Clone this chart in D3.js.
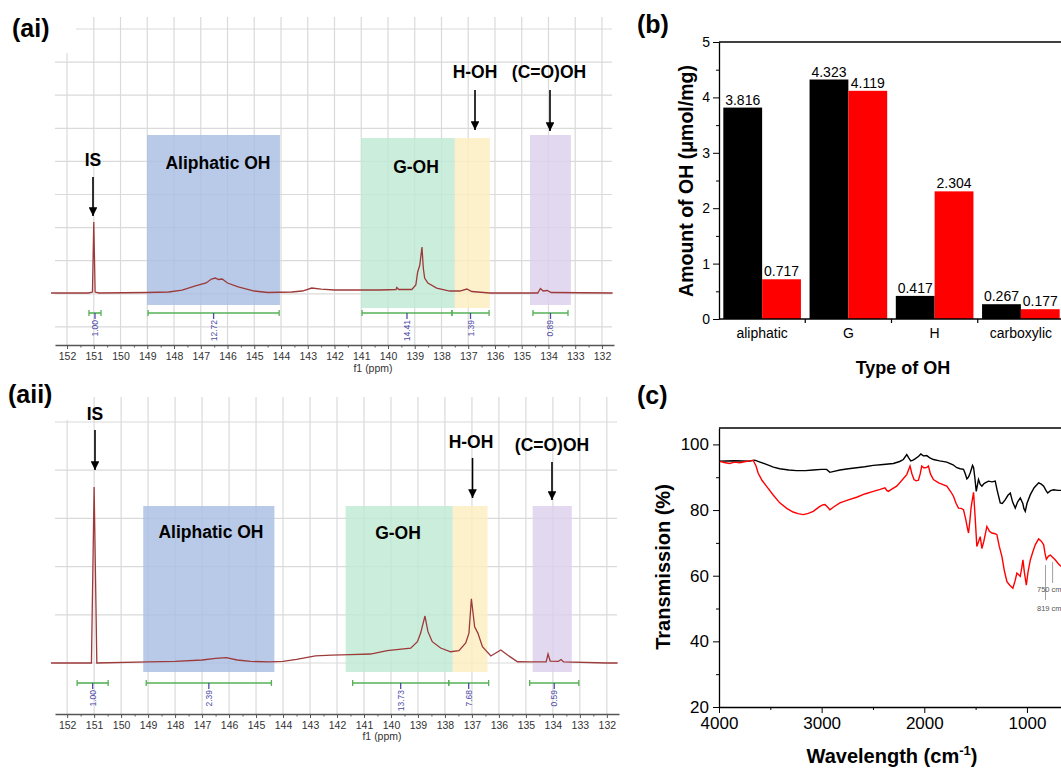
<!DOCTYPE html>
<html>
<head>
<meta charset="utf-8">
<script src="https://cdn.jsdelivr.net/npm/d3@7"></script>
<style>
  body { margin: 0; background: #fff; }
</style>
</head>
<body>
<div class="chart"></div>
<script>
// ---------- (ai) / (aii) 31P NMR ----------
var ppmTicks = d3.range(152, 131, -1);
// [ppm, relative intensity], IS peak = 100
var nmrAi = [
  [152.6,0],[151.2,0],[151.05,1.4],[151.0,100],[150.95,1.4],[150.8,0],[149,0.7],[148.2,1.4],
  [147.7,4.2],[147.2,9.9],[146.8,14.1],[146.6,19.7],[146.45,21.1],[146.35,19],[146.2,19.7],
  [146.0,14.1],[145.6,8.5],[145.0,2.8],[144.5,0.7],[143.6,1.4],[143.2,2.8],[142.85,7.0],
  [142.5,5.6],[142.0,4.2],[141.0,4.2],[140.3,4.2],[139.7,4.9],[139.67,7.7],[139.6,4.9],
  [139.11,4.9],[138.96,11.3],[138.89,29.6],[138.81,39.4],[138.73,64.8],[138.68,35.2],
  [138.63,21.1],[138.51,14.1],[138.18,7.0],[137.69,2.8],[137.31,2.8],[137.05,5.6],
  [136.87,2.1],[136.2,0],[134.4,0],[134.3,6.3],[134.2,2.8],[134.05,3.5],[133.9,0.7],[131.6,0]
];
var nmrAii = [
  [152.6,0],[151.1,0],[151.0,100],[150.9,0],[149,0.6],[148,0.9],[147,1.7],[146.5,2.6],
  [146.1,3.1],[145.7,1.7],[145.2,0.9],[144.5,0.6],[144,0.9],[143.5,2.0],[142.8,4.0],
  [142.2,4.5],[141.5,4.8],[140.76,5.1],[140.14,7.0],[139.27,8.4],[139.02,12.1],[138.9,17.0],
  [138.74,26.7],[138.63,17.8],[138.47,12.1],[138.16,8.5],[137.79,6.4],[137.48,7.0],
  [137.23,11.4],[137.11,17.0],[137.02,36.5],[136.9,20.6],[136.78,17.0],[136.61,9.3],
  [136.3,4.0],[135.93,7.4],[135.68,4.5],[135.31,0.7],[134.82,0.6],[134.25,0.6],[134.18,5.1],
  [134.1,1.1],[133.8,0.9],[133.7,2.0],[133.6,0.6],[132,0],[131.6,0]
];
var regionNames = ["Aliphatic OH", "G-OH", "H-OH", "(C=O)OH"];
var regionColors = ["#a8bee3", "#bfe9d3", "#fdeebf", "#dccfeb"];
var regionsAi = [[149.01,144.04],[141.01,137.5],[137.5,136.19],[134.69,133.16]];
var regionsAii = [[149.18,144.32],[141.68,137.71],[137.71,136.42],[134.75,133.3]];
var integralsAi = [[151.18,150.73],[148.97,144.07],[140.97,137.61],[137.61,136.22],[134.58,133.27]];
var integralValuesAi = ["1.00","12.72","14.41","1.39","0.89"];
var integralsAii = [[151.63,150.48],[149.07,144.43],[141.42,137.86],[137.86,136.38],[134.86,133.04]];
var integralValuesAii = ["1.00","2.39","13.73","7.68","0.59"];

// ---------- (b) bar chart ----------
var ohTypes = ["aliphatic", "G", "H", "carboxylic"];
var seriesBlack = [3.816, 4.323, 0.417, 0.267];
var seriesRed = [0.717, 4.119, 2.304, 0.177];
var barTicks = [0, 1, 2, 3, 4, 5];

// ---------- (c) FTIR ----------
var ftirBlack = [
  [4000,94.9],[3850,95.0],[3700,94.9],[3652,95.2],[3600,94.6],[3538,93.9],[3470,93.1],[3408,92.6],
  [3320,92.2],[3245,92.0],[3160,92.0],[3082,92.2],[3000,92.4],[2952,92.4],[2920,91.5],[2880,91.8],
  [2822,92.2],[2740,92.6],[2659,92.9],[2580,93.2],[2497,93.6],[2400,93.9],[2301,94.2],[2240,94.8],
  [2204,95.4],[2171,96.9],[2150,95.8],[2132,95.0],[2110,95.2],[2090,95.6],[2055,96.4],[2034,97.1],
  [2010,96.5],[1976,96.6],[1950,96.0],[1911,95.4],[1850,95.0],[1781,94.6],[1720,93.8],[1683,92.9],
  [1650,92.6],[1618,92.4],[1600,91.0],[1585,89.5],[1570,90.0],[1553,91.3],[1530,93.6],[1520,93.0],
  [1508,90.0],[1494,85.7],[1480,88.0],[1472,89.3],[1455,87.8],[1439,87.3],[1420,88.0],[1407,88.3],
  [1374,88.8],[1340,88.6],[1309,88.8],[1290,86.0],[1260,82.2],[1240,82.0],[1211,83.2],[1185,84.5],
  [1162,85.2],[1140,82.5],[1114,80.6],[1090,82.5],[1065,83.7],[1040,82.0],[1030,80.5],[1016,79.6],
  [1000,82.0],[967,84.7],[930,86.8],[886,88.3],[860,87.9],[837,87.3],[815,86.0],[798,85.2],
  [770,85.9],[739,86.2],[700,86.0],[665,86.0]
];
var ftirRed = [
  [4000,94.9],[3950,94.5],[3896,94.2],[3850,94.6],[3798,94.4],[3740,94.8],[3700,95.0],[3668,95.2],
  [3640,93.5],[3619,91.3],[3580,89.0],[3538,87.3],[3470,84.5],[3408,82.2],[3340,80.5],[3278,79.4],
  [3230,78.9],[3180,78.6],[3130,79.0],[3082,79.6],[3040,80.6],[3017,81.1],[2990,81.6],[2968,81.7],
  [2945,81.0],[2920,80.1],[2880,81.0],[2822,82.2],[2740,83.1],[2659,83.9],[2580,84.9],[2497,85.7],
  [2430,86.3],[2383,86.8],[2365,86.0],[2350,85.7],[2320,86.3],[2269,87.3],[2220,89.0],[2171,90.8],
  [2150,92.5],[2139,93.4],[2120,91.0],[2100,89.3],[2080,88.9],[2057,89.1],[2040,91.0],[2025,93.4],
  [2005,92.9],[1992,92.9],[1975,93.0],[1960,93.4],[1940,91.0],[1911,89.3],[1860,88.3],[1781,87.3],
  [1740,85.5],[1716,84.2],[1690,82.0],[1667,80.6],[1640,80.5],[1618,80.1],[1595,77.0],[1580,74.5],
  [1569,73.0],[1555,77.0],[1545,80.5],[1537,82.2],[1520,85.4],[1505,78.0],[1488,68.9],[1470,70.5],
  [1455,71.9],[1439,68.3],[1420,70.5],[1390,75.0],[1365,73.5],[1342,73.0],[1310,72.8],[1293,72.5],
  [1270,69.0],[1244,65.9],[1220,61.5],[1195,58.2],[1165,57.0],[1137,56.2],[1115,58.5],[1098,60.8],
  [1080,60.3],[1065,59.8],[1050,62.5],[1039,64.8],[1025,61.0],[1006,57.1],[990,61.0],[967,64.8],
  [940,67.5],[919,69.4],[886,71.2],[860,70.5],[837,69.4],[825,67.0],[811,65.0],[790,66.0],
  [772,66.3],[745,65.5],[723,64.8],[690,63.5],[665,62.8]
];
var ftirMarks = [819, 750];
var ftirYTicks = [20, 40, 60, 80, 100];
var ftirXTicks = [4000, 3000, 2000, 1000];

var FONT = '"Liberation Sans", Arial, sans-serif';

var svg = d3.select(".chart").append("svg")
  .attr("width", 1061)
  .attr("height", 770)
  .style("font-family", FONT);

//arrow head
svg.append("defs").append("marker")
  .attr("id", "arrow")
  .attr("viewBox", "0 0 10 10")
  .attr("refX", 10).attr("refY", 5)
  .attr("markerWidth", 5.5).attr("markerHeight", 5.5)
  .attr("orient", "auto")
  .append("path").attr("d", "M0,0 L10,5 L0,10 z").attr("fill", "#000");

// ---------- NMR panel ----------
function drawNmr(o) {
  var g = svg.append("g");
  var x = d3.scaleLinear().domain([152.45, 131.55]).range([55, o.right]);
  var y = d3.scaleLinear().domain([0, 100]).range([o.base, o.isTop]);

  //grid
  g.selectAll("line.vgrid").data(ppmTicks).join("line").attr("class", "vgrid")
    .attr("x1", d => x(d)).attr("x2", d => x(d))
    .attr("y1", o.gridTop).attr("y2", o.axisY)
    .attr("stroke", "#dadada").attr("stroke-width", 1.2);
  g.selectAll("line.hgrid").data(o.hLines).join("line").attr("class", "hgrid")
    .attr("x1", 55).attr("x2", o.right - 2)
    .attr("y1", d => d).attr("y2", d => d)
    .attr("stroke", "#dadada").attr("stroke-width", 1.2);
  g.append("rect").attr("x", 0).attr("y", o.patch[0])
    .attr("width", 76).attr("height", o.patch[1]).attr("fill", "#fff");

  //shaded regions
  g.selectAll("rect.region").data(o.regions).join("rect").attr("class", "region")
    .attr("x", d => x(d[0])).attr("width", d => x(d[1]) - x(d[0]))
    .attr("y", (d, i) => o.regTop[i])
    .attr("height", (d, i) => o.regBottom[i] - o.regTop[i])
    .attr("fill", (d, i) => regionColors[i])
    .attr("fill-opacity", 0.82);

  //spectrum
  g.append("path").datum(o.data)
    .attr("d", d3.line().x(d => x(d[0])).y(d => y(d[1])))
    .attr("fill", "none").attr("stroke", "#9c3a3a").attr("stroke-width", 1.3);

  //integrals
  var ig = g.selectAll("g.integ").data(o.integrals).join("g").attr("class", "integ");
  ig.append("line")
    .attr("x1", d => x(d[0])).attr("x2", d => x(d[1]))
    .attr("y1", o.integY).attr("y2", o.integY)
    .attr("stroke", "#55b055").attr("stroke-width", 1.6);
  [0, 1].forEach(function(k) {
    ig.append("line")
      .attr("x1", d => x(d[k])).attr("x2", d => x(d[k]))
      .attr("y1", o.integY - 3).attr("y2", o.integY + 3)
      .attr("stroke", "#55b055").attr("stroke-width", 1.3);
  });
  ig.append("line")
    .attr("x1", d => x((d[0] + d[1]) / 2)).attr("x2", d => x((d[0] + d[1]) / 2))
    .attr("y1", o.integY).attr("y2", o.integY + 6)
    .attr("stroke", "#4b4ba8").attr("stroke-width", 1.3);
  ig.append("text")
    .attr("transform", d => `translate(${x((d[0] + d[1]) / 2) + 3},${o.integY + 7}) rotate(-90)`)
    .attr("text-anchor", "end")
    .attr("font-size", 8.5)
    .attr("fill", "#4b4ba8")
    .text((d, i) => o.values[i]);

  //axis
  var ax = g.append("g").attr("transform", `translate(0,${o.axisY})`)
    .call(d3.axisBottom(x).tickValues(ppmTicks).tickSize(4).tickPadding(4)
      .tickSizeOuter(0).tickFormat(d3.format("d")));
  ax.attr("font-family", FONT).attr("font-size", 10.5);
  ax.select(".domain").attr("stroke", "#555").attr("stroke-width", 1.6);
  ax.selectAll(".tick line").attr("stroke", "#555");
  ax.selectAll(".tick text").attr("fill", "#333");
  var mx = g.append("g").attr("transform", `translate(0,${o.axisY})`)
    .call(d3.axisBottom(x).tickValues(d3.range(151.5, 131.5, -1)).tickSize(2.5).tickFormat(""));
  mx.select(".domain").remove();
  mx.selectAll(".tick line").attr("stroke", "#555");

  g.append("text").attr("x", o.f1[0]).attr("y", o.f1[1])
    .attr("text-anchor", "middle").attr("font-size", 10.5).attr("fill", "#333")
    .text("f1 (ppm)");

  //labels and arrows
  g.selectAll("text.lab").data(o.labels).join("text").attr("class", "lab")
    .attr("x", d => d.x).attr("y", d => d.y)
    .attr("text-anchor", "middle")
    .attr("font-size", 17.5).attr("font-weight", "bold")
    .text(d => d.t);
  g.selectAll("line.arr").data(o.arrows).join("line").attr("class", "arr")
    .attr("x1", d => d[0]).attr("x2", d => d[0])
    .attr("y1", d => d[1]).attr("y2", d => d[2])
    .attr("stroke", "#000").attr("stroke-width", 1.6)
    .attr("marker-end", "url(#arrow)");

  g.append("text").attr("x", o.tag[0]).attr("y", o.tag[1])
    .attr("font-size", 25).attr("font-weight", "bold").text(o.tagText);
}

drawNmr({
  right: 614, isTop: 222, base: 293, axisY: 345, gridTop: 17,
  hLines: d3.range(29, 330, 33.1), patch: [0, 53],
  data: nmrAi, regions: regionsAi,
  regTop: [135, 138, 138, 135], regBottom: [305, 308, 308, 305],
  integrals: integralsAi, values: integralValuesAi, integY: 313,
  f1: [373, 372],
  labels: [
    {t: "IS", x: 93, y: 166}, {t: "Aliphatic OH", x: 218, y: 169},
    {t: "G-OH", x: 416, y: 173}, {t: "H-OH", x: 475, y: 78}, {t: "(C=O)OH", x: 549, y: 78}
  ],
  arrows: [[93, 177, 216], [475, 90, 130], [550, 90, 131]],
  tag: [12, 37], tagText: "(ai)"
});

drawNmr({
  right: 619, isTop: 487, base: 663, axisY: 714, gridTop: 397,
  hLines: d3.range(422, 665, 48.2), patch: [380, 40],
  data: nmrAii, regions: regionsAii,
  regTop: [506, 506, 506, 506], regBottom: [672, 672, 672, 672],
  integrals: integralsAii, values: integralValuesAii, integY: 683,
  f1: [382, 740],
  labels: [
    {t: "IS", x: 95, y: 420}, {t: "Aliphatic OH", x: 211, y: 538},
    {t: "G-OH", x: 398, y: 539}, {t: "H-OH", x: 471, y: 448}, {t: "(C=O)OH", x: 552, y: 451}
  ],
  arrows: [[95, 430, 470], [472.5, 458, 498], [552, 462, 500]],
  tag: [8, 403], tagText: "(aii)"
});

// ---------- (b) ----------
var gb = svg.append("g");
var xb = d3.scaleBand().domain(ohTypes).range([719, 1064]).paddingInner(0.1).paddingOuter(0.05);
var xs = d3.scaleBand().domain([0, 1]).range([0, xb.bandwidth()]);
var yb = d3.scaleLinear().domain([0, 5]).range([319, 42]);
var barColors = ["#000000", "#ff0000"];

var barData = [];
ohTypes.forEach(function(t, i) {
  barData.push({t: t, s: 0, v: seriesBlack[i]});
  barData.push({t: t, s: 1, v: seriesRed[i]});
});

gb.selectAll("rect.bar").data(barData).join("rect").attr("class", "bar")
  .attr("x", d => xb(d.t) + xs(d.s))
  .attr("width", xs.bandwidth())
  .attr("y", d => yb(d.v))
  .attr("height", d => yb(0) - yb(d.v))
  .attr("fill", d => barColors[d.s]);

gb.selectAll("text.val").data(barData).join("text").attr("class", "val")
  .attr("x", d => xb(d.t) + xs(d.s) + xs.bandwidth() / 2)
  .attr("y", d => yb(d.v) - 3)
  .attr("text-anchor", "middle")
  .attr("font-size", 14)
  .text(d => d.v.toFixed(3));

var ay = gb.append("g").attr("transform", "translate(719,0)")
  .call(d3.axisLeft(yb).tickValues(barTicks).tickSize(6).tickPadding(3)
    .tickSizeOuter(0).tickFormat(d3.format("d")));
ay.attr("font-family", FONT).attr("font-size", 14);
ay.select(".domain").attr("stroke-width", 1.3);
ay.selectAll("text").attr("fill", "#000");
var ayMinor = gb.append("g").attr("transform", "translate(719,0)")
  .call(d3.axisLeft(yb).tickValues(d3.range(0.5, 5, 1)).tickSize(3).tickFormat(""));
ayMinor.select(".domain").remove();

// x axis with ticks between groups
gb.append("line").attr("x1", 719).attr("x2", 1061)
  .attr("y1", yb(0)).attr("y2", yb(0)).attr("stroke", "#000").attr("stroke-width", 1.3);
gb.append("line").attr("x1", 719).attr("x2", 1061)
  .attr("y1", yb(5)).attr("y2", yb(5)).attr("stroke", "#000").attr("stroke-width", 1.3);
gb.selectAll("line.sep").data(ohTypes.slice(1)).join("line").attr("class", "sep")
  .attr("x1", d => xb(d) - xb.step() * xb.paddingInner() / 2)
  .attr("x2", d => xb(d) - xb.step() * xb.paddingInner() / 2)
  .attr("y1", yb(0)).attr("y2", yb(0) + 4)
  .attr("stroke", "#000").attr("stroke-width", 1.2);
gb.selectAll("text.cat").data(ohTypes).join("text").attr("class", "cat")
  .attr("x", d => xb(d) + xb.bandwidth() / 2)
  .attr("y", 338)
  .attr("text-anchor", "middle")
  .attr("font-size", 14)
  .text(d => d);

gb.append("text")
  .attr("transform", "translate(693,181) rotate(-90)")
  .attr("text-anchor", "middle")
  .attr("font-size", 19.5).attr("font-weight", "bold")
  .text("Amount of OH (μmol/mg)");
gb.append("text").attr("x", 903).attr("y", 374)
  .attr("text-anchor", "middle")
  .attr("font-size", 18).attr("font-weight", "bold")
  .text("Type of OH");
gb.append("text").attr("x", 637).attr("y", 33)
  .attr("font-size", 25).attr("font-weight", "bold").text("(b)");

// ---------- (c) ----------
var gc = svg.append("g");
var xc = d3.scaleLinear().domain([4000, 600]).range([719, 1068]);
var yc = d3.scaleLinear().domain([20, 105]).range([707, 428]);

var ftirLine = d3.line().x(d => xc(d[0])).y(d => yc(d[1]));
gc.append("path").datum(ftirBlack).attr("d", ftirLine)
  .attr("fill", "none").attr("stroke", "#000").attr("stroke-width", 1.4);
gc.append("path").datum(ftirRed).attr("d", ftirLine)
  .attr("fill", "none").attr("stroke", "#ff0000").attr("stroke-width", 1.4);

// peak marks
var markLen = [[565, 600], [562, 583]];
gc.selectAll("line.mark").data(ftirMarks).join("line").attr("class", "mark")
  .attr("x1", d => xc(d)).attr("x2", d => xc(d))
  .attr("y1", (d, i) => markLen[i][0]).attr("y2", (d, i) => markLen[i][1])
  .attr("stroke", "#888").attr("stroke-width", 0.8);
gc.selectAll("text.mark").data(ftirMarks).join("text").attr("class", "mark")
  .attr("x", 1037)
  .attr("y", (d, i) => i === 0 ? 611 : 592)
  .attr("font-size", 7.5).attr("fill", "#555")
  .text(d => d + " cm");

var acy = gc.append("g").attr("transform", "translate(719,0)")
  .call(d3.axisLeft(yc).tickValues(ftirYTicks).tickSize(6).tickPadding(4).tickSizeOuter(0));
acy.attr("font-family", FONT).attr("font-size", 17);
acy.select(".domain").attr("stroke-width", 1.3);
acy.selectAll("text").attr("fill", "#000");
var acyMinor = gc.append("g").attr("transform", "translate(719,0)")
  .call(d3.axisLeft(yc).tickValues([30, 50, 70, 90]).tickSize(3).tickFormat(""));
acyMinor.select(".domain").remove();

var acx = gc.append("g").attr("transform", `translate(0,${yc(20)})`)
  .call(d3.axisBottom(xc).tickValues(ftirXTicks).tickSize(6).tickPadding(4)
    .tickSizeOuter(0).tickFormat(d3.format("d")));
acx.attr("font-family", FONT).attr("font-size", 17);
acx.select(".domain").attr("stroke-width", 1.3);
acx.selectAll("text").attr("fill", "#000");
var acxMinor = gc.append("g").attr("transform", `translate(0,${yc(20)})`)
  .call(d3.axisBottom(xc).tickValues([3500, 2500, 1500]).tickSize(3).tickFormat(""));
acxMinor.select(".domain").remove();

gc.append("line").attr("x1", 719).attr("x2", 1061)
  .attr("y1", yc(105)).attr("y2", yc(105)).attr("stroke", "#000").attr("stroke-width", 1.3);

gc.append("text")
  .attr("transform", "translate(670,567) rotate(-90)")
  .attr("text-anchor", "middle")
  .attr("font-size", 20).attr("font-weight", "bold")
  .text("Transmission (%)");
var wl = gc.append("text").attr("x", 892).attr("y", 763)
  .attr("text-anchor", "middle")
  .attr("font-size", 20).attr("font-weight", "bold");
wl.append("tspan").text("Wavelength (cm");
wl.append("tspan").attr("dy", -8).attr("font-size", 13).text("-1");
wl.append("tspan").attr("dy", 8).text(")");
gc.append("text").attr("x", 637).attr("y", 404)
  .attr("font-size", 25).attr("font-weight", "bold").text("(c)");
</script>
</body>
</html>
